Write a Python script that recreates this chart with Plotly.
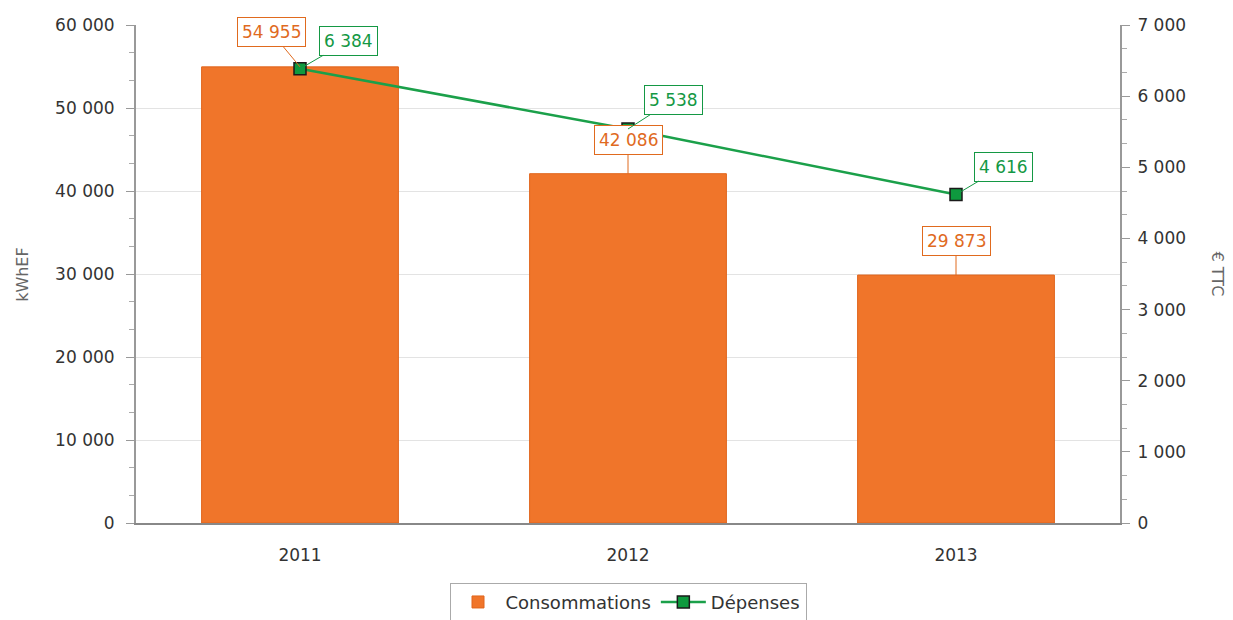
import plotly.graph_objects as go

years = ["2011", "2012", "2013"]
consommations = [54955, 42086, 29873]
depenses = [6384, 5538, 4616]
cons_labels = ["54 955", "42 086", "29 873"]
dep_labels = ["6 384", "5 538", "4 616"]

FONT = "DejaVu Sans"
ORANGE = "#F0752A"
ORANGE_TXT = "#E06A1E"
GREEN = "#1BA04A"
GREEN_TXT = "#149844"

fig = go.Figure()
fig.add_trace(go.Bar(
    x=years, y=consommations, name="Consommations",
    marker=dict(color=ORANGE, line=dict(color="#E0651C", width=1)),
    width=0.6, yaxis="y", hoverinfo="skip"))
fig.add_trace(go.Scatter(
    x=years, y=depenses, name="Dépenses", mode="lines+markers",
    line=dict(color=GREEN, width=2.5),
    marker=dict(symbol="square", size=12, color="#0E9A3E", line=dict(color="#1a1a1a", width=1.5)),
    yaxis="y2", hoverinfo="skip"))

annotations = []
cons_off = [(-29, -35), (0, -34), (0, -34)]
dep_off = [(48, -28), (45, -29), (47, -28)]
for i, yr in enumerate(years):
    ax, ay = cons_off[i]
    annotations.append(dict(
        x=i, y=consommations[i], xref="x", yref="y", text=cons_labels[i],
        showarrow=True, arrowhead=0, arrowwidth=1, arrowcolor=ORANGE_TXT, ax=ax, ay=ay,
        font=dict(family=FONT, size=17, color=ORANGE_TXT),
        bgcolor="white", bordercolor=ORANGE_TXT, borderwidth=1, borderpad=4))
    ax, ay = dep_off[i]
    annotations.append(dict(
        x=i, y=depenses[i], xref="x", yref="y2", text=dep_labels[i],
        showarrow=True, arrowhead=0, arrowwidth=1, arrowcolor=GREEN_TXT, ax=ax, ay=ay,
        font=dict(family=FONT, size=17, color=GREEN_TXT),
        bgcolor="white", bordercolor=GREEN_TXT, borderwidth=1, borderpad=4))

annotations.append(dict(x=-0.116, y=0.5, xref="paper", yref="paper", text="kWhEF",
                        textangle=-90, showarrow=False, xanchor="center", yanchor="middle",
                        font=dict(family=FONT, size=16, color="#666")))
annotations.append(dict(x=1.1, y=0.5, xref="paper", yref="paper", text="€ TTC",
                        textangle=90, showarrow=False, xanchor="center", yanchor="middle",
                        font=dict(family=FONT, size=16, color="#666")))

fig.update_layout(
    width=1225, height=612,
    margin=dict(l=128, r=113, t=17, b=97, autoexpand=False),
    paper_bgcolor="white", plot_bgcolor="white",
    separators=", ",
    font=dict(family=FONT, size=17, color="#333"),
    bargap=0.4,
    showlegend=True,
    legend=dict(orientation="h", x=0.5, xanchor="center", y=-0.12, yanchor="top",
                bordercolor="#aaa", borderwidth=1, bgcolor="white", itemwidth=45,
                font=dict(family=FONT, size=18, color="#333")),
    xaxis=dict(type="category", categoryorder="array", categoryarray=years,
               range=[-0.5, len(years) - 0.5],
               showline=True, linecolor="#888", linewidth=1.5, ticks="",
               ticklabelstandoff=16,
               showgrid=False, tickfont=dict(size=17, color="#333"), automargin=False),
    yaxis=dict(range=[0, 60000], dtick=10000, tickformat=",d", showline=True,
               linecolor="#999", linewidth=2, ticks="outside", ticklen=8, tickcolor="#999",
               ticklabelstandoff=8,
               showgrid=True, gridcolor="#e3e3e3", gridwidth=1, zeroline=False, automargin=False,
               minor=dict(dtick=10000/3, ticks="outside", ticklen=5, tickcolor="#aaa", showgrid=False),
               tickfont=dict(size=17, color="#333")),
    yaxis2=dict(range=[0, 7000], dtick=1000, tickformat=",d", overlaying="y", side="right",
                showline=True, linecolor="#999", linewidth=2, ticks="outside", ticklen=8,
                tickcolor="#999", ticklabelstandoff=4,
                showgrid=False, zeroline=False, automargin=False,
                minor=dict(dtick=1000/3, ticks="outside", ticklen=5, tickcolor="#aaa", showgrid=False),
                tickfont=dict(size=17, color="#333")),
    annotations=annotations,
)

fig.write_html("out.html")
